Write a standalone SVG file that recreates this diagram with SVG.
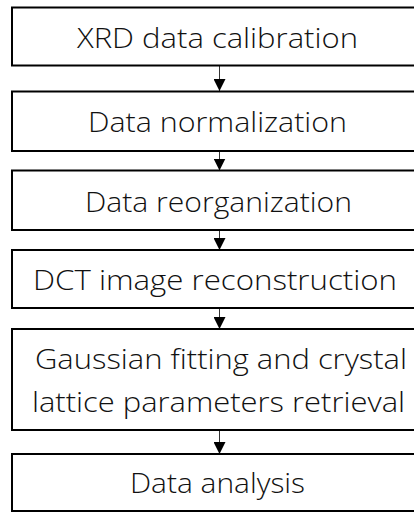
<svg xmlns="http://www.w3.org/2000/svg" width="414" height="512" viewBox="0 0 414 512">
<defs>
<style>
.box{fill:#fff;stroke:#000;stroke-width:2}
.t{font-family:"Open Sans","Noto Sans","Liberation Sans",sans-serif;font-weight:300;font-size:28px;fill:#111;text-anchor:middle}
.c{stroke:#333;stroke-width:1;fill:none}
</style>
<marker id="ah" markerWidth="12" markerHeight="12" viewBox="0 0 12 12" refX="12" refY="6" orient="auto" markerUnits="userSpaceOnUse">
<path d="M0,0 L12,6 L0,12 Z" fill="#000"/>
</marker>
</defs>
<rect width="414" height="512" fill="#fff"/>
<g id="connectors">
<line class="c" x1="219.5" y1="66" x2="219.5" y2="91" marker-end="url(#ah)"/>
<line class="c" x1="219.5" y1="151" x2="219.5" y2="170.5" marker-end="url(#ah)"/>
<line class="c" x1="219.5" y1="230" x2="219.5" y2="250" marker-end="url(#ah)"/>
<line class="c" x1="219.5" y1="308" x2="219.5" y2="329" marker-end="url(#ah)"/>
<line class="c" x1="219.5" y1="430" x2="219.5" y2="454" marker-end="url(#ah)"/>
</g>
<g id="n1"><rect class="box" x="12" y="7.5" width="414" height="58"/><text class="t" x="217.5" y="47.5" textLength="281" lengthAdjust="spacingAndGlyphs">XRD data calibration</text></g>
<g id="n2"><rect class="box" x="12" y="91.5" width="414" height="59.5"/><text class="t" x="217.5" y="132" textLength="259" lengthAdjust="spacingAndGlyphs">Data normalization</text></g>
<g id="n3"><rect class="box" x="12" y="170.5" width="414" height="59.5"/><text class="t" x="218.5" y="211.5" textLength="267" lengthAdjust="spacingAndGlyphs">Data reorganization</text></g>
<g id="n4"><rect class="box" x="12" y="250" width="414" height="58"/><text class="t" x="215" y="290" textLength="364" lengthAdjust="spacingAndGlyphs">DCT image reconstruction</text></g>
<g id="n5"><rect class="box" x="12" y="329" width="414" height="101"/><text class="t" x="221" y="369" textLength="372" lengthAdjust="spacingAndGlyphs">Gaussian fitting and crystal</text><text class="t" x="218.5" y="411.5" textLength="373" lengthAdjust="spacingAndGlyphs">lattice parameters  retrieval</text></g>
<g id="n6"><rect class="box" x="12" y="454" width="414" height="57"/><text class="t" x="217.5" y="492.5" textLength="175" lengthAdjust="spacingAndGlyphs">Data analysis</text></g>
</svg>
